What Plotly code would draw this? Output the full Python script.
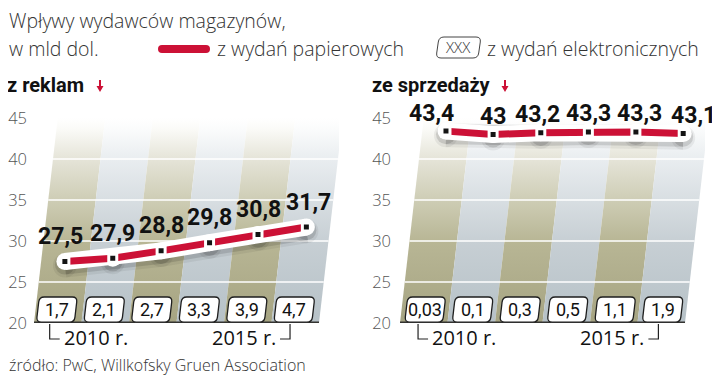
import plotly.graph_objects as go

# ---------------- data ----------------
years = [2010, 2011, 2012, 2013, 2014, 2015]
ads_print = [27.5, 27.9, 28.8, 29.8, 30.8, 31.7]        # z reklam, z wydań papierowych
ads_digital = [1.7, 2.1, 2.7, 3.3, 3.9, 4.7]            # z reklam, z wydań elektronicznych
sales_print = [43.4, 43.0, 43.2, 43.3, 43.3, 43.1]      # ze sprzedaży, papierowe
sales_digital = [0.03, 0.1, 0.3, 0.5, 1.1, 1.9]         # ze sprzedaży, elektroniczne
y_ticks = [20, 25, 30, 35, 40, 45]
grid_levels = [25, 30, 35, 40]

# ---------------- style ----------------
W, H = 720, 376
OFF = 8                 # page body margin
YMIN, YMAX = 20, 45
SLANT = 0.02            # x-units of shift per y-unit (pseudo-3D slant)
COL_PX = 47.5           # pixels per category
Y_PX = 8.2              # pixels per y unit
RED = "#cc1136"
COND = "Roboto, DejaVu Sans Condensed, sans-serif"
LIGHT = "Open Sans, Lato, DejaVu Sans, sans-serif"
OLIVE_SCALE = [[0, "#a6a482"], [0.4, "#b8b695"], [0.6, "#cecdb5"], [0.8, "#e5e4d8"],
               [0.95, "#fbfbf8"], [1, "#ffffff"]]
GREY_SCALE = [[0, "#b6c1c7"], [0.4, "#c7cfd4"], [0.6, "#d8dee2"], [0.8, "#e9edf0"],
              [0.95, "#fbfcfc"], [1, "#ffffff"]]


def fmt(v):
    return ("%g" % v).replace(".", ",")


def px(x):
    return (x - OFF) / W


def py(y):
    return 1 - (y - OFF) / H


def slanted_box(xc, y0, y1, w, rx, ry):
    """rounded, slanted box path in data coords"""
    s = SLANT * (y1 - y0)
    h = y1 - y0
    bl, br = xc - w / 2, xc + w / 2
    tl, tr = bl + s, br + s
    f = ry / h
    return (f"M{bl+rx},{y0} L{br-rx},{y0} Q{br},{y0} {br+s*f},{y0+ry} "
            f"L{tr-s*f},{y1-ry} Q{tr},{y1} {tr-rx},{y1} L{tl+rx},{y1} "
            f"Q{tl},{y1} {tl-s*f},{y1-ry} L{bl+s*f},{y0+ry} Q{bl},{y0} {bl+rx},{y0} Z")


def rounded_px(x0, y0, x1, y1, r, slant=0.0):
    """rounded (optionally slanted) rectangle given in window pixels -> paper path"""
    h = y1 - y0

    def P(x, y):
        return f"{px(x)},{py(y)}"
    tl, tr = x0 + slant, x1 + slant
    bl, br = x0, x1
    f = r / h
    return (f"M{P(bl+r, y1)} L{P(br-r, y1)} Q{P(br, y1)} {P(br+slant*f, y1-r)} "
            f"L{P(tr-slant*f, y0+r)} Q{P(tr, y0)} {P(tr-r, y0)} L{P(tl+r, y0)} "
            f"Q{P(tl, y0)} {P(tl-slant*f, y0+r)} L{P(bl+slant*f, y1-r)} Q{P(bl, y1)} {P(bl+r, y1)} Z")


def text_px(x, y, text, size, family=LIGHT, color="#333333", xanchor="left", weight="normal"):
    return dict(x=px(x), y=py(y), xref="paper", yref="paper", text=text, showarrow=False,
                xanchor=xanchor, yanchor="middle", borderpad=0,
                font=dict(family=family, size=size, color=color, weight=weight))


fig = go.Figure()
shapes = []
annotations = []

panels = [
    dict(xa="x", ya="y", title="z reklam", line=ads_print, boxes=ads_digital,
         lab_dy=25, lab_dx=[-4, 0, 0, 0, 0, 2], box_dx=-0.05,
         title_x=6, arrow_x=100),
    dict(xa="x2", ya="y2", title="ze sprzedaży", line=sales_print, boxes=sales_digital,
         lab_dy=18, lab_dx=[-14, 0, -3, 0, 4, 10], box_dx=0.0,
         title_x=371, arrow_x=505),
]

n = len(years)
for p in panels:
    xa, ya = p["xa"], p["ya"]
    top_shift = SLANT * (YMAX - YMIN)
    # slanted columns
    for i in range(n):
        xs = [i - 0.5, i + 0.5, i + 0.5 + top_shift, i - 0.5 + top_shift, i - 0.5]
        ys = [YMIN, YMIN, YMAX, YMAX, YMIN]
        fig.add_trace(go.Scatter(
            x=xs, y=ys, xaxis=xa, yaxis=ya, mode="lines", fill="toself",
            line=dict(width=0), hoverinfo="skip", showlegend=False,
            fillgradient=dict(type="vertical", start=YMIN, stop=YMAX,
                              colorscale=OLIVE_SCALE if i % 2 == 0 else GREY_SCALE)))
    # white grid lines
    for g in grid_levels:
        sh = SLANT * (g - YMIN)
        fig.add_trace(go.Scatter(
            x=[-0.5 + sh, n - 0.5 + sh], y=[g, g], xaxis=xa, yaxis=ya, mode="lines",
            line=dict(color="white", width=1.6), hoverinfo="skip", showlegend=False))
    # base line
    fig.add_trace(go.Scatter(
        x=[-0.5, n - 0.5], y=[YMIN, YMIN], xaxis=xa, yaxis=ya, mode="lines",
        line=dict(color="#333330", width=3), hoverinfo="skip", showlegend=False))

    vals = p["line"]
    xm = [i + SLANT * (v - YMIN) for i, v in enumerate(vals)]
    # shadow of the pill
    for wdt, col, dy in [(24, "rgba(0,0,0,0.06)", 0.5), (20, "rgba(0,0,0,0.12)", 0.38)]:
        fig.add_trace(go.Scatter(
            x=xm, y=[v - dy for v in vals], xaxis=xa, yaxis=ya, mode="lines+markers",
            line=dict(color=col, width=wdt), marker=dict(size=wdt, color=col),
            hoverinfo="skip", showlegend=False, cliponaxis=False))
    # white pill
    fig.add_trace(go.Scatter(
        x=xm, y=vals, xaxis=xa, yaxis=ya, mode="lines+markers",
        line=dict(color="white", width=17), marker=dict(size=17, color="white"),
        hoverinfo="skip", showlegend=False, cliponaxis=False))
    # red line
    fig.add_trace(go.Scatter(
        x=xm, y=vals, xaxis=xa, yaxis=ya, mode="lines",
        line=dict(color=RED, width=7), hoverinfo="skip", showlegend=False, cliponaxis=False))
    # black square markers
    fig.add_trace(go.Scatter(
        x=xm, y=vals, xaxis=xa, yaxis=ya, mode="markers",
        marker=dict(symbol="square", size=8, color="#141414", line=dict(color="white", width=3)),
        hoverinfo="skip", showlegend=False, cliponaxis=False))
    # value labels
    for i, v in enumerate(vals):
        annotations.append(dict(
            x=xm[i], y=v, xref=xa, yref=ya, text=fmt(v), showarrow=False,
            xanchor="center", yanchor="middle", borderpad=0,
            yshift=p["lab_dy"], xshift=p["lab_dx"][i],
            font=dict(family=COND, size=23, color="#111111", weight="bold")))

    # digital-edition boxes
    by0, by1 = YMIN + 0.1, YMIN + 26 / Y_PX
    bw = 38 / COL_PX
    for i, v in enumerate(p["boxes"]):
        xc = i + p["box_dx"]
        shapes.append(dict(
            type="path", xref=xa, yref=ya,
            path=slanted_box(xc, by0, by1, bw, 5 / COL_PX, 5 / Y_PX),
            fillcolor="white", line=dict(color="#1e1e1e", width=1.3), layer="above"))
        annotations.append(dict(
            x=xc + SLANT * (by1 - by0) / 2, y=(by0 + by1) / 2, xref=xa, yref=ya,
            text=fmt(v), showarrow=False, xanchor="center", yanchor="middle", borderpad=0,
            font=dict(family=COND, size=18, color="#111111")))

    # year brackets
    xb0 = 0 + p["box_dx"] - 0.12
    xb1 = (n - 1) + p["box_dx"] - 0.06
    hl = 10 / COL_PX
    shapes.append(dict(type="path", xref=xa, yref="paper",
                       path=f"M{xb0},{py(324)} L{xb0},{py(339)} L{xb0+hl},{py(339)}",
                       line=dict(color="#222222", width=1.2), layer="above"))
    shapes.append(dict(type="path", xref=xa, yref="paper",
                       path=f"M{xb1},{py(324)} L{xb1},{py(339)} L{xb1-hl},{py(339)}",
                       line=dict(color="#222222", width=1.2), layer="above"))
    annotations.append(dict(x=xb0 + 13 / COL_PX, y=py(337), xref=xa, yref="paper",
                            text=f"{years[0]} r.", showarrow=False, xanchor="left",
                            yanchor="middle", borderpad=0,
                            font=dict(family=LIGHT, size=20, color="#111111", weight=500)))
    annotations.append(dict(x=xb1 - 13 / COL_PX, y=py(337), xref=xa, yref="paper",
                            text=f"{years[-1]} r.", showarrow=False, xanchor="right",
                            yanchor="middle", borderpad=0,
                            font=dict(family=LIGHT, size=20, color="#111111", weight=500)))

    # panel title + red arrow
    annotations.append(text_px(p["title_x"], 85, p["title"], 20, family=COND,
                               color="#111111", weight="bold"))
    ax = p["arrow_x"]
    shapes.append(dict(type="path", xref="paper", yref="paper",
                       path=(f"M{px(ax-1)},{py(80)} L{px(ax+1)},{py(80)} L{px(ax+1)},{py(86)} "
                             f"L{px(ax+3.5)},{py(86)} L{px(ax)},{py(92)} L{px(ax-3.5)},{py(86)} "
                             f"L{px(ax-1)},{py(86)} Z"),
                       fillcolor=RED, line=dict(width=0)))

# header / legend / source
annotations += [
    text_px(8, 21, "Wpływy wydawców magazynów,", 19.5, weight=300),
    text_px(8, 48, "w mld dol.", 19.5, weight=300),
    text_px(216, 48, "z wydań papierowych", 19.5, weight=300),
    text_px(458, 47, "XXX", 15, xanchor="center", weight=300),
    text_px(486, 48, "z wydań elektronicznych", 19.5, weight=300),
    text_px(8, 365, "źródło: PwC, Willkofsky Gruen Association", 16, weight=300),
]
shapes.append(dict(type="path", xref="paper", yref="paper",
                   path=rounded_px(158, 45, 210, 53, 4), fillcolor=RED, line=dict(width=0)))
shapes.append(dict(type="path", xref="paper", yref="paper",
                   path=rounded_px(436, 37, 478, 58, 5, slant=3), fillcolor="white",
                   line=dict(color="#444444", width=1)))

rng = [-0.5 - 5 / COL_PX, -0.5 - 5 / COL_PX + 310 / COL_PX]
ydom = [py(323), py(118)]
common_x = dict(range=rng, visible=False, showgrid=False, zeroline=False, fixedrange=True,
                automargin=False)
common_y = dict(range=[YMIN, YMAX], domain=ydom, tickvals=y_ticks, ticks="",
                showgrid=False, zeroline=False, showline=False, fixedrange=True,
                automargin=False,
                tickfont=dict(family=LIGHT, size=16.5, color="#555555", weight=300))

fig.update_layout(
    width=W, height=H, margin=dict(l=0, r=0, t=0, b=0, autoexpand=False),
    paper_bgcolor="white", plot_bgcolor="white", showlegend=False,
    xaxis=dict(domain=[px(29), px(339)], anchor="y", **common_x),
    xaxis2=dict(domain=[px(395), px(705)], anchor="y2", **common_x),
    yaxis=dict(anchor="x", ticklabelstandoff=1, **common_y),
    yaxis2=dict(anchor="x2", ticklabelstandoff=3, **common_y),
    shapes=shapes, annotations=annotations,
)

fig.write_html("out.html")
